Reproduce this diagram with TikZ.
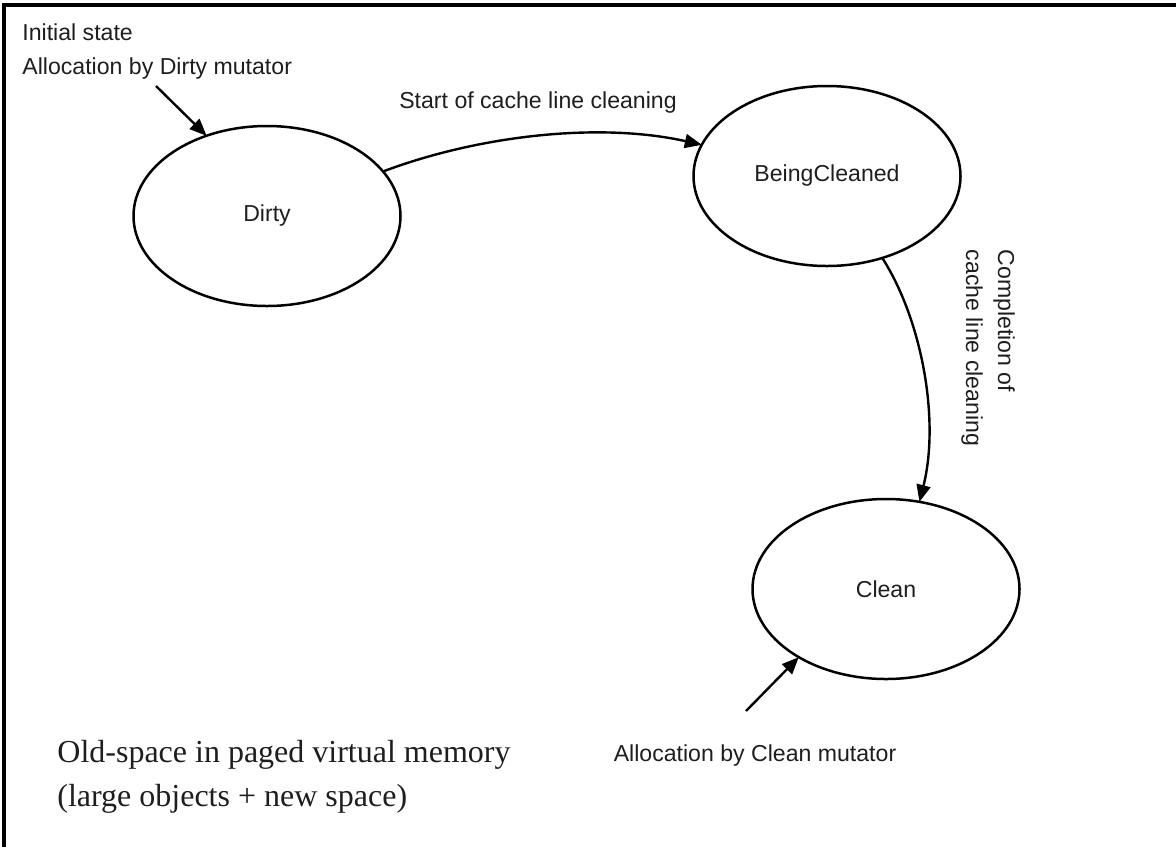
\documentclass[tikz,border=0pt]{standalone}
\usepackage{fontspec}
\setmainfont{Liberation Sans}
\newfontfamily\serifface{Liberation Serif}
\usetikzlibrary{shapes.geometric,arrows.meta}
\definecolor{ink}{RGB}{30,30,30}
\tikzset{
  state/.style={draw=black, line width=1.25pt, ellipse, minimum width=133.5pt, minimum height=90pt, inner sep=0pt, outer sep=0pt, text=ink, font=\fontsize{11.55}{13.8}\selectfont},
  lbl/.style={text=ink, font=\fontsize{11.55}{16}\selectfont, inner sep=0pt},
  serlbl/.style={text=ink, font=\serifface\fontsize{16}{19}\selectfont, inner sep=0pt, anchor=west},
  conn/.style={line width=1.2pt, -{Triangle[length=8.5pt,width=7pt]}},
  frame/.style={line width=1.6pt}
}
\begin{document}
\begin{tikzpicture}[x=0.5pt,y=-0.5pt]
\useasboundingbox (0,0) rectangle (1176,847);
% frame (top and left edges)
\coordinate (fl) at (4,847);
\coordinate (fc) at (4,5);
\coordinate (fr) at (1176,5);
\draw[frame] (fl) -- (fc) -- (fr);

% states
\node[state] (dirty) at (267,216) {Dirty};
\node[state] (bc) at (827,176) {BeingCleaned};
\node[state] (clean) at (886,589) {Clean};

% texts
\node[lbl, anchor=west] (init) at (22,32) {Initial state};
\node[lbl, anchor=west] (allocd) at (22,69) {Allocation by Dirty mutator};
\node[lbl] (start) at (538,103) {Start of cache line cleaning};
\node[lbl, rotate=-90, align=left] (compl) at (988,348) {Completion of\\cache line cleaning};
\node[lbl] (allocc) at (755,756) {Allocation by Clean mutator};
\node[serlbl] (old1) at (57,755) {Old-space in paged virtual memory};
\node[serlbl] (old2) at (57,799) {(large objects + new space)};

% connectors
\coordinate (din) at (156,86);
\coordinate (cin) at (746,711);
\draw[conn] (din) -- (dirty.127);
\draw[conn] (dirty.21) .. controls (480,135) and (600,122) .. (bc.166);
\draw[conn] (bc.-56) .. controls (922,320) and (940,420) .. (clean.69);
\draw[conn] (cin) -- (clean.218);
\end{tikzpicture}
\end{document}
